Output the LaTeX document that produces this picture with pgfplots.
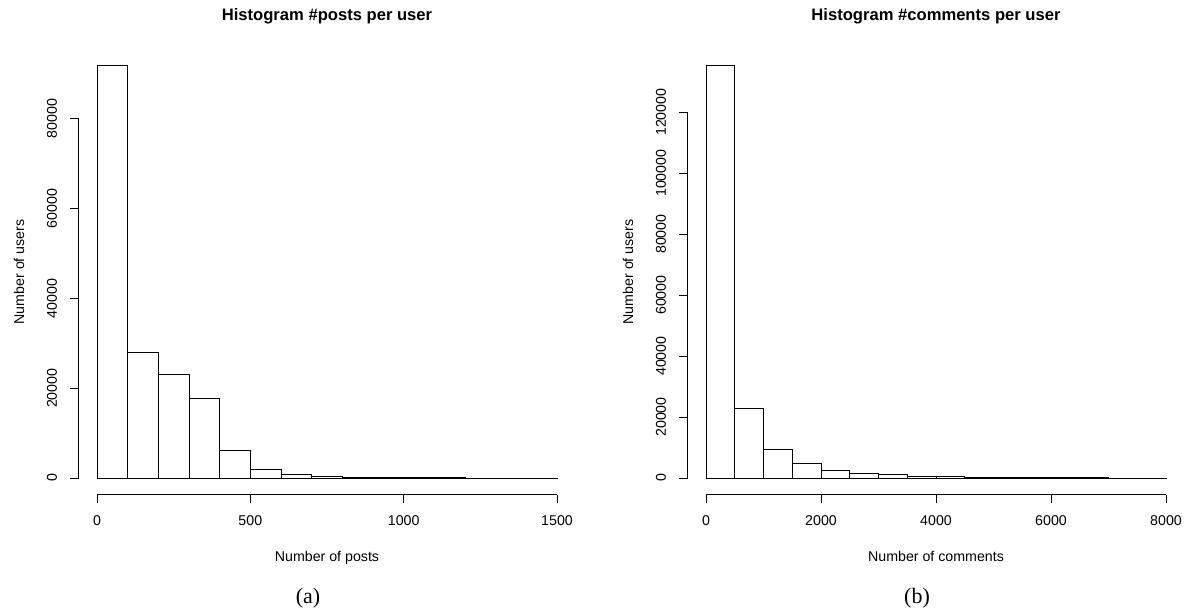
\documentclass[border=0pt]{standalone}
\usepackage{pgfplots}
\pgfplotsset{compat=1.18}
\usepackage{fontspec}
\setmainfont{Liberation Sans}
\newfontfamily\capfont{Liberation Serif}

\pgfplotstableread{
x y
0 91800
100 28000
200 23050
300 17700
400 6100
500 1870
600 880
700 430
800 230
900 120
1000 60
1100 30
1200 15
1300 8
1400 4
1500 4
}\posts

\pgfplotstableread{
x y
0 135200
500 22800
1000 9300
1500 4800
2000 2500
2500 1650
3000 1100
3500 650
4000 400
4500 250
5000 150
5500 100
6000 60
6500 30
7000 15
7500 8
8000 8
}\comments

\pgfplotsset{
  rhist/.style={
    scale only axis,
    width=496.8pt, height=445.2pt,
    anchor=south west,
    axis x line*=bottom, axis y line*=left,
    axis line style={draw=none},
    clip=false,
    tick align=outside,
    major tick length=8.5pt,
    every tick/.style={black, line width=0.9pt},
    scaled ticks=false,
    /pgf/number format/fixed,
    /pgf/number format/assume math mode=true,
    /pgf/number format/1000 sep={},
    tick label style={font=\fontsize{14.2}{17}\selectfont, inner sep=0pt},
    xticklabel style={anchor=north},
    yticklabel style={rotate=90, anchor=south},
    xticklabel shift=12pt,
    yticklabel shift=12.8pt,
    label style={font=\fontsize{14.2}{17}\selectfont, inner sep=0pt},
    xlabel style={at={(axis description cs:0.5,-0.1516)}, anchor=base},
    ylabel style={at={(axis description cs:-0.1099,0.5)}, anchor=base, rotate=0},
    every axis title/.style={at={(axis description cs:0.5,1.0658)}, anchor=base, inner sep=0pt, font=\fontsize{16.6}{20}\selectfont\bfseries},
  },
  hbar/.style={ybar interval, draw=black, fill=white, line width=0.9pt},
}

\begin{document}
\begin{tikzpicture}
\useasboundingbox (0,0) rectangle (1186pt,-613pt);

\begin{axis}[rhist,
  at={(78.6pt,-494.5pt)},
  xmin=-60, xmax=1560, ymin=-3672, ymax=95472,
  xtick={0,500,1000,1500},
  ytick={0,20000,40000,60000,80000},
  title={Histogram \#posts per user},
  xlabel={Number of posts},
  ylabel={Number of users},
]
\addplot[hbar] table[x=x,y=y] {\posts};
\draw[line width=0.9pt] (axis cs:0,-3672) -- (axis cs:1500,-3672);
\draw[line width=0.9pt] (axis cs:-60,0) -- (axis cs:-60,80000);
\end{axis}

\begin{axis}[rhist,
  at={(687.6pt,-494.5pt)},
  xmin=-320, xmax=8320, ymin=-5408, ymax=140608,
  xtick={0,2000,4000,6000,8000},
  ytick={0,20000,40000,60000,80000,100000,120000},
  title={Histogram \#comments per user},
  xlabel={Number of comments},
  ylabel={Number of users},
]
\addplot[hbar] table[x=x,y=y] {\comments};
\draw[line width=0.9pt] (axis cs:0,-5408) -- (axis cs:8000,-5408);
\draw[line width=0.9pt] (axis cs:-320,0) -- (axis cs:-320,120000);
\end{axis}

\node[font=\capfont\fontsize{22}{26}\selectfont, anchor=center] at (308pt,-598pt) {(a)};
\node[font=\capfont\fontsize{22}{26}\selectfont, anchor=center] at (917pt,-598pt) {(b)};
\end{tikzpicture}
\end{document}
